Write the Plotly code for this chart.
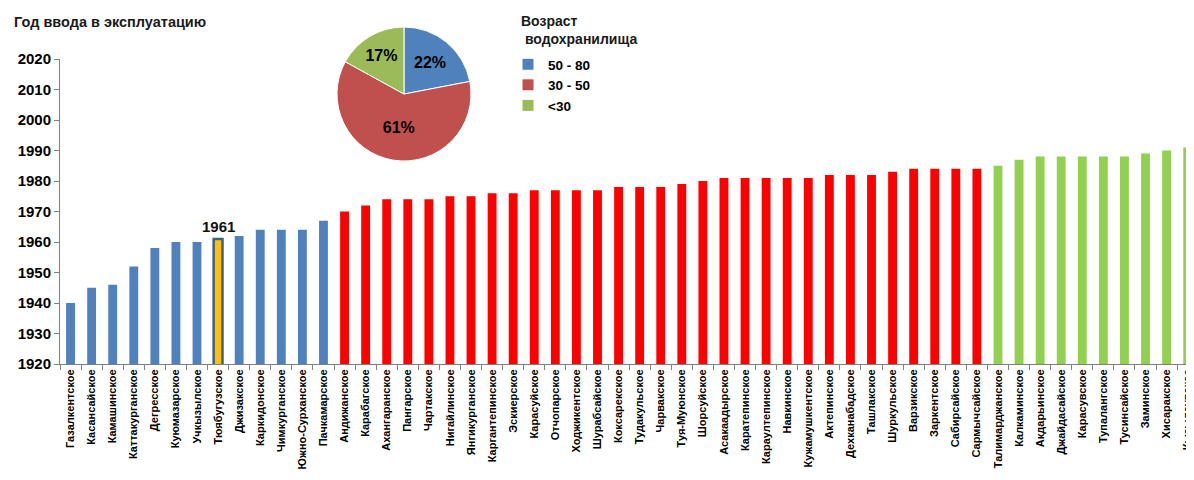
import plotly.graph_objects as go

names = ["Газалкентское", "Касансайское", "Камашинское", "Каттакурганское", "Дегресское",
         "Куюмазарское", "Учкызылское", "Тюябугузское", "Джизакское", "Каркидонское",
         "Чимкурганское", "Южно-Сурханское", "Пачкамарское",
         "Андижанское", "Карабагское", "Ахангаранское", "Пангарское", "Чартакское",
         "Нигайлинское", "Янгикурганское", "Каргантепинское", "Эскиерское", "Карасуйское",
         "Отчопарское", "Ходжикентское", "Шурабсайское", "Коксарекское", "Тудакульское",
         "Чарвакское", "Туя-Муюнское", "Шорсуйское", "Асакаадырское", "Каратепинское",
         "Караултепинское", "Навкинское", "Кужамушкентское", "Актепинское", "Дехканабадское",
         "Ташлакское", "Шуркульское", "Варзикское", "Заркентское", "Сабирсайское",
         "Сармычсайское",
         "Талимарджанское", "Калкаминское", "Акдарьинское", "Джайдасайское", "Карасувское",
         "Тупалангское", "Тусинсайское", "Заминское", "Хисаракское", "Кызылсувское"]
years = [1940, 1945, 1946, 1952, 1958, 1960, 1960, 1961, 1962, 1964, 1964, 1964, 1967,
         1970, 1972, 1974, 1974, 1974, 1975, 1975, 1976, 1976, 1977, 1977, 1977, 1977,
         1978, 1978, 1978, 1979, 1980, 1981, 1981, 1981, 1981, 1981, 1982, 1982, 1982,
         1983, 1984, 1984, 1984, 1984,
         1985, 1987, 1988, 1988, 1988, 1988, 1988, 1989, 1990, 1991]
groups = ["old"] * 13 + ["mid"] * 31 + ["new"] * 10
highlight = "Тюябугузское"

age_labels = ["50 - 80", "30 - 50", "<30"]
age_share = [22, 61, 17]

bar_colors = {"old": "#4F81BD", "mid": "#FF0000", "new": "#92D050"}
pie_colors = ["#4F81BD", "#C0504D", "#9BBB59"]

cols = []
line_cols = []
line_w = []
for n, g in zip(names, groups):
    if n == highlight:
        cols.append("#FFC000")
        line_cols.append("#3A5F8F")
        line_w.append(2.5)
    else:
        cols.append(bar_colors[g])
        line_cols.append(bar_colors[g])
        line_w.append(0)

W, H = 1194, 480
OFF = 8  # page body margin
fig = go.Figure()
fig.add_trace(go.Bar(x=names, y=years, width=0.42, showlegend=False,
                     marker=dict(color=cols, line=dict(color=line_cols, width=line_w))))

hi = names.index(highlight)
fig.add_annotation(x=names[hi], y=years[hi], text="1961", showarrow=False, yanchor="bottom", yshift=2,
                   font=dict(family="Liberation Sans", size=15, color="#111111", weight="bold"))

# pie inset
cx, cy, r = 404 - OFF, 94 - OFF, 67
fig.add_trace(go.Pie(labels=age_labels, values=age_share, sort=False, direction="clockwise",
                     marker=dict(colors=pie_colors, line=dict(color="white", width=1)),
                     texttemplate="%{value}%", textposition="inside",
                     textfont=dict(family="Liberation Sans", size=16, color="black", weight="bold"),
                     domain=dict(x=[(cx - r) / W, (cx + r) / W], y=[1 - (cy + r) / H, 1 - (cy - r) / H]),
                     hoverinfo="skip"))

fig.update_layout(
    width=W, height=H,
    margin=dict(l=0, r=0, t=0, b=0),
    plot_bgcolor="white", paper_bgcolor="white",
    bargap=0.5,
    font=dict(family="Liberation Sans", color="black"),
    legend=dict(x=(508 - OFF) / W, y=1 - (49 - OFF) / H, xanchor="left", yanchor="top",
                font=dict(family="Liberation Sans", size=13.5, weight="bold"),
                tracegroupgap=0, itemwidth=30),
    xaxis=dict(domain=[(60 - OFF) / W, (1194 - OFF) / W], range=[-0.5, 53.3], tickangle=-90,
               automargin=False,
               showline=True, linecolor="#808080", ticks="outside", tickson="boundaries",
               ticklen=5, tickcolor="#808080", showgrid=False,
               tickfont=dict(family="Liberation Sans", size=11, weight="bold")),
    yaxis=dict(domain=[1 - (364 - OFF) / H, 1 - (59 - OFF) / H], range=[1920, 2020], dtick=10,
               automargin=False,
               showline=True, linecolor="#808080", ticks="outside", ticklen=5, tickcolor="#808080",
               showgrid=False, zeroline=False,
               tickfont=dict(family="Liberation Sans", size=15, weight="bold")),
)

fig.add_annotation(xref="paper", yref="paper", x=(12 - OFF) / W, y=1 - (22 - OFF) / H,
                   xanchor="left", yanchor="middle",
                   text="Год ввода в эксплуатацию", showarrow=False,
                   font=dict(family="Liberation Sans", size=14.5, color="#1a1a1a", weight="bold"))
fig.add_annotation(xref="paper", yref="paper", x=(519 - OFF) / W, y=1 - (11 - OFF) / H,
                   xanchor="left", yanchor="top", align="left",
                   text="Возраст<br> водохранилища", showarrow=False,
                   font=dict(family="Liberation Sans", size=14, color="#1a1a1a", weight="bold"))

fig.write_html("out.html")
